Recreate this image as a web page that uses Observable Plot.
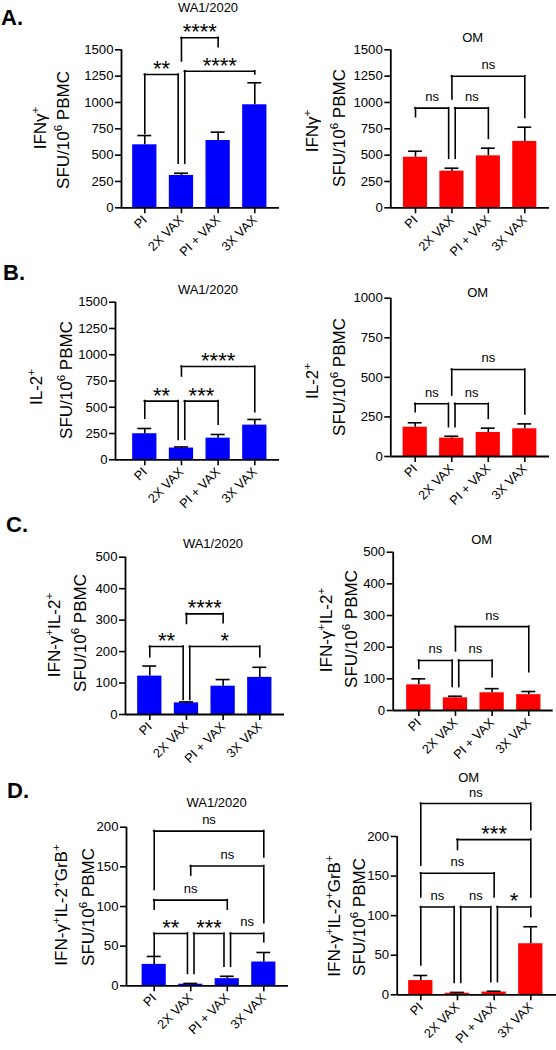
<!DOCTYPE html>
<html><head><meta charset="utf-8">
<script src="https://cdn.jsdelivr.net/npm/d3@7"></script>
<script src="https://cdn.jsdelivr.net/npm/@observablehq/plot@0.6"></script>
<style>
body{margin:0;background:#fff;}
#fig{position:relative;width:556px;height:1050px;overflow:hidden;font-family:"Liberation Sans",Arial,sans-serif;color:#000;background:#fff;}
#fig svg{position:absolute;left:0;}
.ttl{position:absolute;white-space:nowrap;line-height:1;font-size:13px;transform:translate(-50%,-50%);}
.ylab{position:absolute;white-space:nowrap;line-height:1;font-size:17px;transform:translate(-50%,-50%) rotate(-90deg);}
.ylab sup{font-size:0.68em;vertical-align:baseline;position:relative;top:-0.6em;line-height:0;}
.letter{position:absolute;font-weight:bold;font-size:22px;line-height:1;}
</style></head><body><div id="fig"></div>
<script>
// ---------- data ----------
const groups = ["PI", "2X VAX", "PI + VAX", "3X VAX"];

// A. IFNγ+
const ifnWA_mean  = [598, 307, 639, 978];
const ifnWA_upper = [686, 328, 718, 1187];
const ifnOM_mean  = [480, 348, 493, 630];
const ifnOM_upper = [537, 376, 566, 765];
// B. IL-2+
const il2WA_mean  = [248, 112, 206, 330];
const il2WA_upper = [298, 122, 241, 384];
const il2OM_mean  = [185, 116, 152, 175];
const il2OM_upper = [213, 128, 179, 206];
// C. IFN-γ+IL-2+
const dblWA_mean  = [122, 37, 90, 118];
const dblWA_upper = [154, 40, 111, 150];
const dblOM_mean  = [81, 40, 56, 50];
const dblOM_upper = [100, 45, 69, 60];
// D. IFN-γ+IL-2+GrB+
const triWA_mean  = [27, 2, 9, 30];
const triWA_upper = [37, 3, 12, 42];
const triOM_mean  = [18, 2, 3.5, 64.5];
const triOM_upper = [24.4, 3, 4.5, 86];

// significance brackets: [from, to, level, left leg end, right leg end, label]
const ifnWA_br = [[0,1,1265,700,418,"**"],[1,2,1614,1389,1525,"****"],[1,3,1297,418,1265,"****"]];
const ifnOM_br = [[0,1,946,860,465,"ns"],[1,2,946,465,655,"ns"],[1,3,1249,1028,854,"ns"]];
const il2WA_br = [[0,1,558,390,190,"**"],[1,2,558,190,333,"***"],[1,3,888,793,453,"****"]];
const il2OM_br = [[0,1,333,280,185,"ns"],[1,2,333,185,238,"ns"],[1,3,550,385,265,"ns"]];
const dblWA_br = [[0,1,216,182,46,"**"],[1,3,216,46,182,"*"],[1,2,320,288,290,"****"]];
const dblOM_br = [[0,1,158,131,74,"ns"],[1,2,158,74,105,"ns"],[1,3,265,187,121,"ns"]];
const triWA_br = [[0,1,66,38,15,"**"],[1,2,66,15,24,"***"],[2,3,66,24,55,"ns"],[0,2,108,96,96,"ns"],[1,3,151,139,79,"ns"],[0,3,195,121,162,"ns"]];
const triOM_br = [[0,1,111,37,15,"ns"],[1,2,111,15,16,"ns"],[2,3,111,16,98,"*"],[0,2,153.5,123,123,"ns"],[1,3,196,183,123,"***"],[0,3,241.6,163,208,"ns"]];

const ticks1500 = [0, 250, 500, 750, 1000, 1250, 1500];
const ticks1000 = [0, 250, 500, 750, 1000];
const ticks500  = [0, 100, 200, 300, 400, 500];
const ticks200  = [0, 50, 100, 150, 200];

const strainTitles = ["WA1/2020", "OM"];
const panelLetters = ["A.", "B.", "C.", "D."];
const ylabLine1 = ["IFNγ<sup>+</sup>", "IL-2<sup>+</sup>", "IFN-γ<sup>+</sup>IL-2<sup>+</sup>", "IFN-γ<sup>+</sup>IL-2<sup>+</sup>GrB<sup>+</sup>"];
const ylabLine2 = "SFU/10<sup>6</sup> PBMC";

// ---------- layout ----------
const BLUE = "#0000ff", RED = "#ff0000";
const rows = [{top:0,h:250},{top:250,h:250},{top:500,h:260},{top:760,h:290}];
const panels = [
  {row:0, mean:ifnWA_mean, upper:ifnWA_upper, br:ifnWA_br, ymax:1500, ticks:ticks1500, color:BLUE,
   axisX:121, xEnd:279, c0:144.3, c3:254.3, yTop:49.3, yBot:207.3, title:[208,6.5], yl:[[40,128],[62.5,130]]},
  {row:0, mean:ifnOM_mean, upper:ifnOM_upper, br:ifnOM_br, ymax:1500, ticks:ticks1500, color:RED,
   axisX:390.3, xEnd:549, c0:415, c3:524.3, yTop:49.3, yBot:207.3, title:[472.7,36.7], yl:[[312,131],[338.5,127.5]]},
  {row:1, mean:il2WA_mean, upper:il2WA_upper, br:il2WA_br, ymax:1500, ticks:ticks1500, color:BLUE,
   axisX:115, xEnd:279, c0:144.3, c3:254.3, yTop:301.7, yBot:459.3, title:[208,289.3], yl:[[36,387],[66,380]]},
  {row:1, mean:il2OM_mean, upper:il2OM_upper, br:il2OM_br, ymax:1000, ticks:ticks1000, color:RED,
   axisX:390.3, xEnd:549, c0:414.7, c3:524.3, yTop:297.7, yBot:456, title:[477.7,291.7], yl:[[312,381],[338.5,377]]},
  {row:2, mean:dblWA_mean, upper:dblWA_upper, br:dblWA_br, ymax:500, ticks:ticks500, color:BLUE,
   axisX:125, xEnd:284, c0:149.3, c3:259.3, yTop:556.7, yBot:714, title:[213,543.3], yl:[[53.5,635],[79.5,633]]},
  {row:2, mean:dblOM_mean, upper:dblOM_upper, br:dblOM_br, ymax:500, ticks:ticks500, color:RED,
   axisX:392.7, xEnd:552.7, c0:418.3, c3:528.3, yTop:551.7, yBot:710, title:[481.7,539.3], yl:[[326,630],[350.5,629]]},
  {row:3, mean:triWA_mean, upper:triWA_upper, br:triWA_br, ymax:200, ticks:ticks200, color:BLUE,
   axisX:126, xEnd:288, c0:153.7, c3:263.3, yTop:826.7, yBot:985.3, title:[216.7,801.7], yl:[[60.5,905],[87.5,906.5]]},
  {row:3, mean:triOM_mean, upper:triOM_upper, br:triOM_br, ymax:200, ticks:ticks200, color:RED,
   axisX:396.7, xEnd:556, c0:420.3, c3:530.3, yTop:836, yBot:994.3, title:[468.7,776.7], yl:[[333.5,916],[358.5,917]]}
];
const letterPos = [[1,7],[3,262],[6,514],[7,780]];

const fig = document.getElementById("fig");
const FONT = '"Liberation Sans", Arial, sans-serif';
const SW = 1.6;

function makePanel(p) {
  const row = rows[p.row];
  const data = p.mean.map((m, i) => ({i, mean: m, upper: p.upper[i]}));
  const xv = 3 * (p.axisX - p.c0) / (p.c3 - p.c0);
  const tol = 0.1 * p.ymax, off = 0.09;
  const br = p.br.map(([a, b, level, e1, e2, label], k) => {
    const others = p.br.filter((q, kk) => kk !== k && Math.abs(q[2] - level) < tol);
    const xa = a + (others.some(q => q[1] === a) ? off : 0);
    const xb = b - (others.some(q => q[0] === b) ? off : 0);
    return {xa, xb, mid: (xa + xb) / 2, level, e1, e2, label};
  });
  const legs = br.flatMap(d => [{x: d.xa, y1: d.level, y2: d.e1}, {x: d.xb, y1: d.level, y2: d.e2}]);
  const stars = br.filter(d => d.label !== "ns");
  const ns = br.filter(d => d.label === "ns");
  const svg = Plot.plot({
    width: 556, height: row.h,
    marginLeft: p.axisX, marginRight: 556 - p.xEnd,
    marginTop: p.yTop - row.top, marginBottom: row.top + row.h - p.yBot,
    x: {type: "linear", domain: [0, 3], range: [p.c0, p.c3]},
    y: {type: "linear", domain: [0, p.ymax]},
    style: {background: "none", overflow: "visible", fontFamily: FONT, color: "black"},
    marks: [
      Plot.rect(data, {x1: d => d.i - 0.331, x2: d => d.i + 0.331, y1: 0, y2: "mean", fill: p.color}),
      Plot.ruleX(data, {x: "i", y1: "mean", y2: "upper", stroke: "black", strokeWidth: SW}),
      Plot.ruleY(data, {y: "upper", x1: d => d.i - 0.19, x2: d => d.i + 0.19, stroke: "black", strokeWidth: SW}),
      Plot.ruleX([xv], {stroke: "black", strokeWidth: SW + 0.2}),
      Plot.ruleY([0], {stroke: "black", strokeWidth: SW + 0.2}),
      Plot.axisY({ticks: p.ticks, tickFormat: d => String(d), tickSize: 6, tickPadding: 2, fontSize: 13.2, label: null, strokeWidth: SW}),
      Plot.axisX({ticks: [0, 1, 2, 3], tickFormat: i => groups[i], tickRotate: -45, tickSize: 6, tickPadding: 4, fontSize: 12.8, label: null, strokeWidth: SW}),
      Plot.ruleY(br, {y: "level", x1: "xa", x2: "xb", stroke: "black", strokeWidth: SW, strokeLinecap: "square"}),
      Plot.ruleX(legs, {x: "x", y1: "y1", y2: "y2", stroke: "black", strokeWidth: SW, strokeLinecap: "square"}),
      Plot.text(stars, {x: "mid", y: "level", text: "label", lineAnchor: "bottom", dy: 1.5, fontSize: 22, fill: "black"}),
      Plot.text(ns, {x: "mid", y: "level", text: "label", lineAnchor: "bottom", dy: -7, fontSize: 13, fill: "black"})
    ]
  });
  svg.style.top = row.top + "px";
  fig.appendChild(svg);

  const t = document.createElement("div");
  t.className = "ttl";
  t.textContent = strainTitles[p.color === BLUE ? 0 : 1];
  t.style.left = p.title[0] + "px"; t.style.top = p.title[1] + "px";
  fig.appendChild(t);

  [ylabLine1[p.row], ylabLine2].forEach((txt, k) => {
    const d = document.createElement("div");
    d.className = "ylab";
    d.innerHTML = txt;
    d.style.left = p.yl[k][0] + "px"; d.style.top = p.yl[k][1] + "px";
    fig.appendChild(d);
  });
}
panels.forEach(makePanel);

panelLetters.forEach((L, k) => {
  const d = document.createElement("div");
  d.className = "letter";
  d.textContent = L;
  d.style.left = letterPos[k][0] + "px"; d.style.top = letterPos[k][1] + "px";
  fig.appendChild(d);
});
</script>
</body></html>
